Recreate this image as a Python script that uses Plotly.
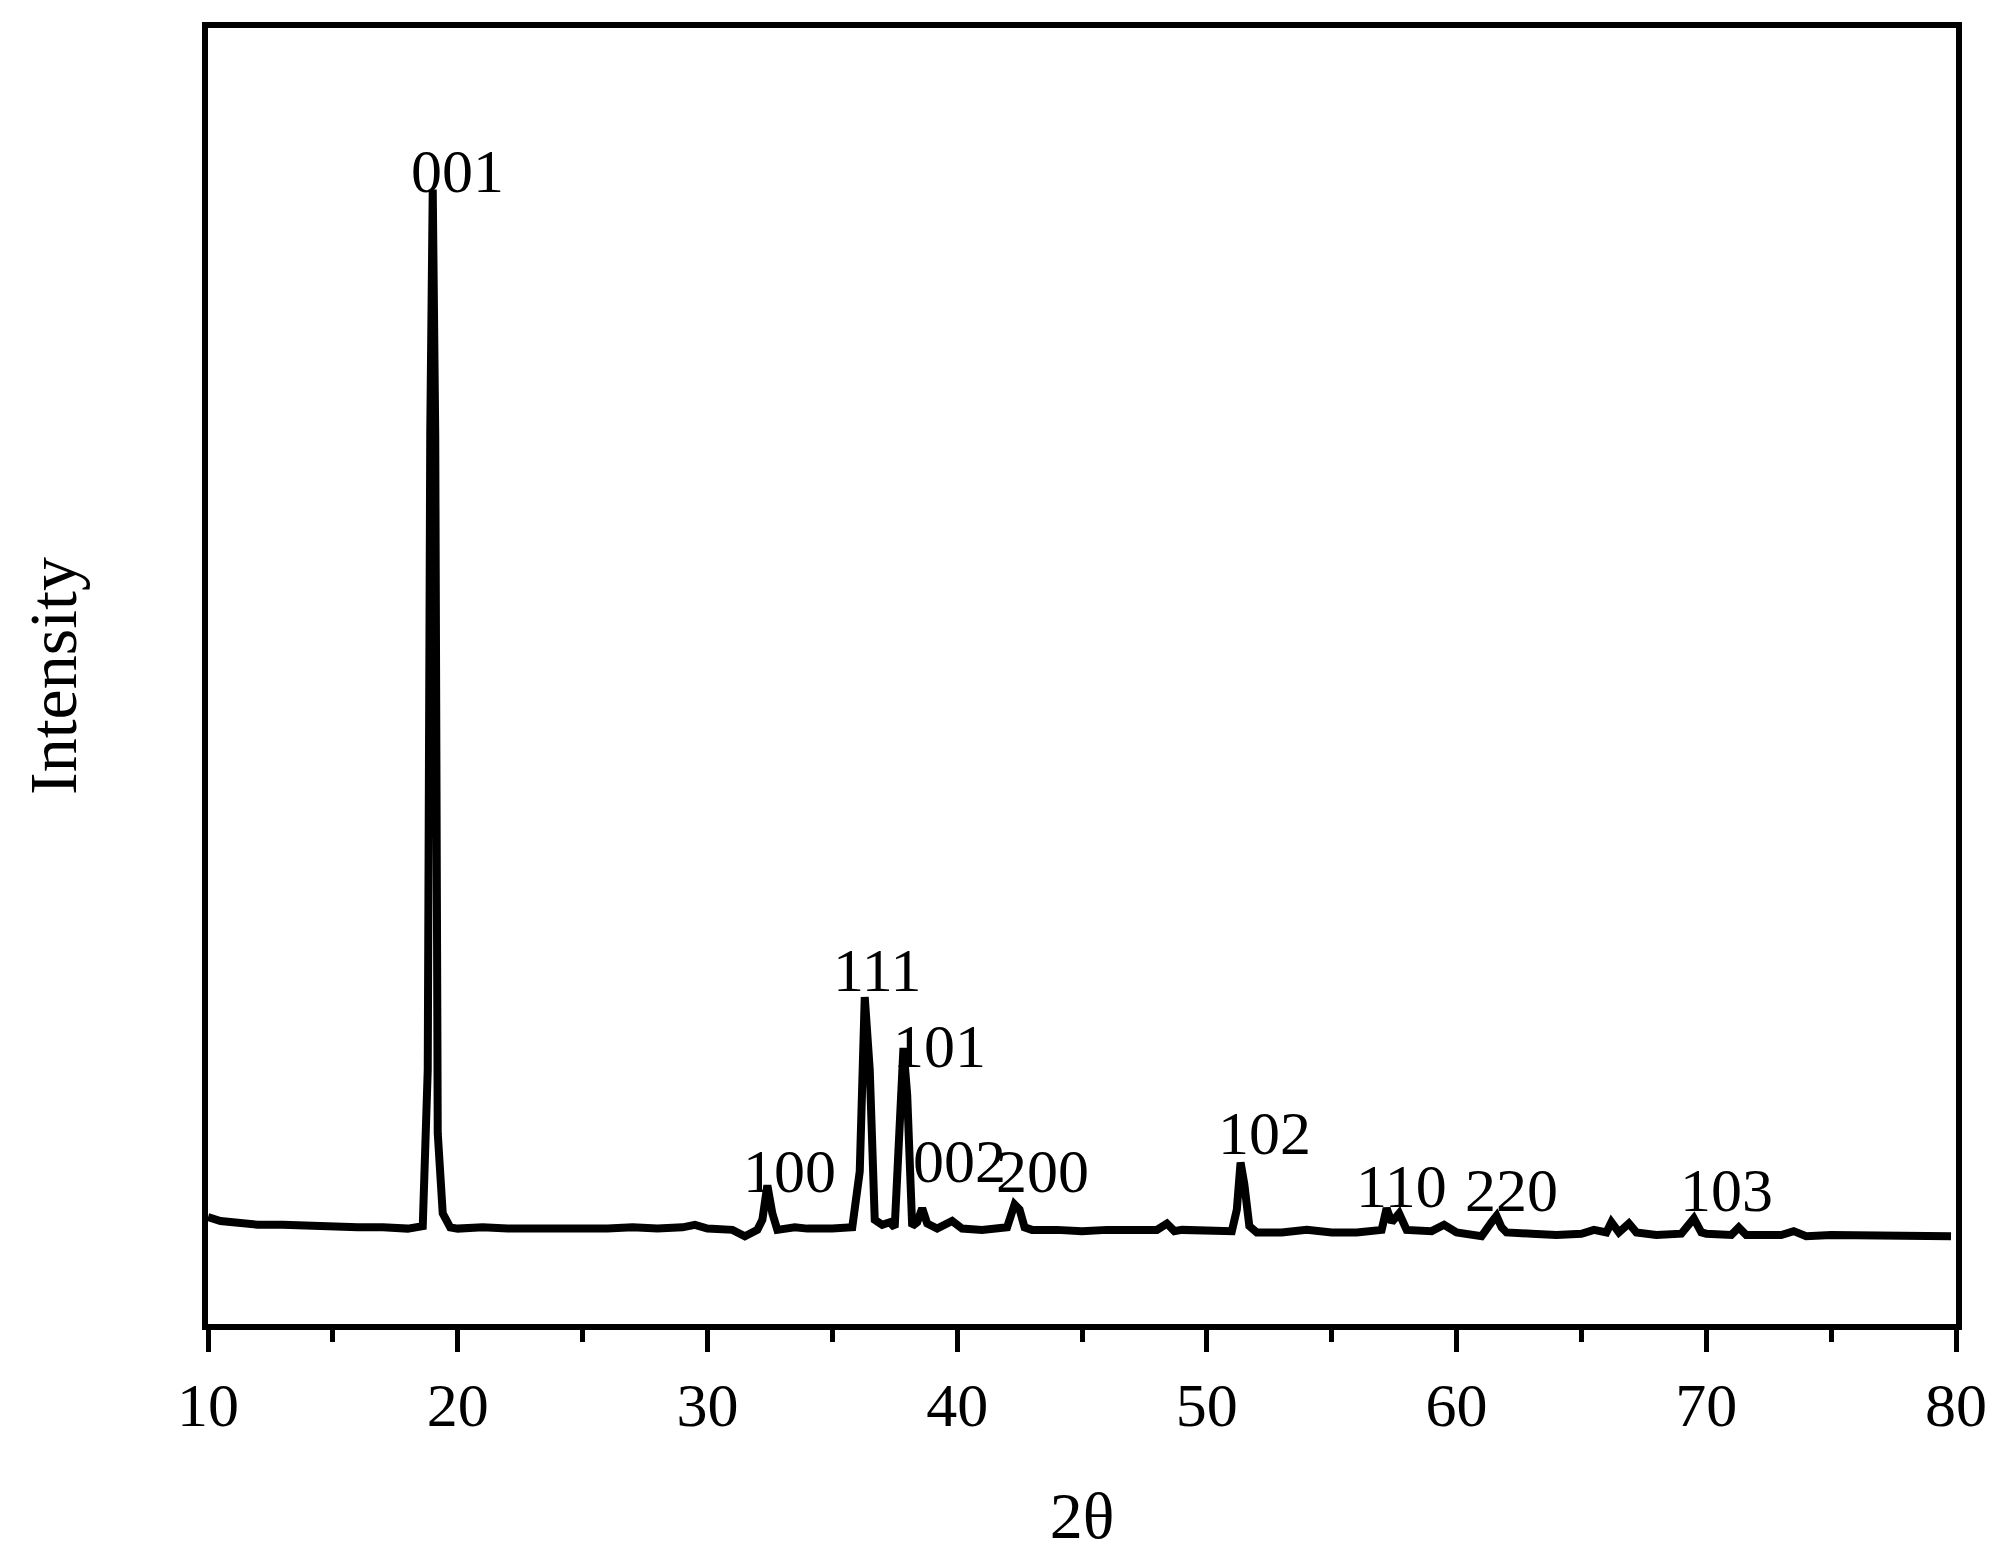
import plotly.graph_objects as go

two_theta = [10,10.5,11,12,13,14,15,16,17,18,18.6,18.8,18.9,19.0,19.1,19.2,19.4,19.7,20,21,22,23,24,25,26,27,28,29,29.5,30,31,31.5,32,32.2,32.4,32.6,32.8,33.5,34,35,35.8,36.1,36.3,36.5,36.7,37,37.3,37.5,37.7,37.85,38,38.2,38.4,38.6,38.8,39.2,39.8,40.2,41,42,42.3,42.5,42.7,43,44,45,46,47,48,48.4,48.7,49,50,51,51.2,51.35,51.5,51.7,52,53,54,55,56,57,57.2,57.4,57.7,58,59,59.5,60,61,61.4,61.6,61.8,62,63,64,65,65.5,66,66.2,66.5,66.9,67.2,68,69,69.5,69.8,70,71,71.3,71.6,72,73,73.5,74,75,76,77,78,79,79.8]
intensity = [84,81,80,78,78,77,77,76,76,75,77,200,700,892,700,150,87,76,75,76,75,75,74,75,75,76,75,76,78,75,74,69,74,82,109,87,74,76,75,75,76,120,257,200,82,78,80,76,150,217,180,77,80,91,79,75,81,75,74,76,94,90,76,74,74,73,74,74,74,79,73,74,73,73,90,127,110,77,72,72,74,72,72,74,91,80,87,74,73,78,72,69,80,85,76,72,71,70,71,74,72,80,72,79,72,70,71,83,72,71,70,76,70,70,70,73,69,70,70,69,69,69,69]

labels = ["001","111","101","100","002","200","102","110","220","103"]
label_x = [20.0,36.8,39.3,33.3,40.1,43.4,52.3,57.8,62.2,70.8]
label_y = [878,250,190,92,100,92,122,80,77,77]

tick_vals = [10,20,30,40,50,60,70,80]

font = "Liberation Serif"
fig = go.Figure(go.Scatter(x=two_theta, y=intensity, mode="lines",
                           line=dict(color="black", width=8), hoverinfo="skip"))
for t, x, y in zip(labels, label_x, label_y):
    fig.add_annotation(x=x, y=y, text=t, showarrow=False, yanchor="bottom",
                       font=dict(family=font, size=62, color="black"))

fig.update_layout(
    width=2006, height=1566, paper_bgcolor="white", plot_bgcolor="white",
    margin=dict(l=200, r=58, t=20, b=250), showlegend=False,
    font=dict(family=font, color="black"),
    xaxis=dict(range=[10, 80], tickvals=tick_vals, ticks="outside", ticklen=22, tickwidth=5,
               tickcolor="black", tickfont=dict(size=62), showgrid=False, zeroline=False,
               showline=True, linewidth=6, linecolor="black", mirror=True,
               minor=dict(tickvals=[15,25,35,45,55,65,75], ticks="outside", ticklen=12, tickwidth=5, tickcolor="black"),
               title=dict(text="2θ", font=dict(size=66), standoff=55)),
    yaxis=dict(range=[0, 1019], showticklabels=False, ticks="", showgrid=False, zeroline=False,
               showline=True, linewidth=6, linecolor="black", mirror=True,
               title=dict(text="Intensity", font=dict(size=68), standoff=105)),
)
fig.write_html("out.html")
